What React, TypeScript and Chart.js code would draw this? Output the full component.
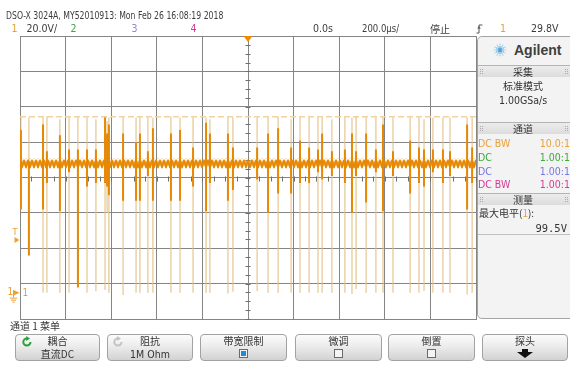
import React, { useEffect, useRef } from "react";
import { Chart, registerables } from "chart.js";

Chart.register(...registerables);

// Channel 1 acquisition: 200 µs/div, 20 V/div, stopped
const timeSpan = [-1000, 1000]; // µs across the 10 horizontal divisions
const timePerDiv = 200;
const voltsPerDiv = 20;
const screenCentre = 65.1; // V at the middle horizontal graticule line
const triggerLevel = 29.8;
const maxLevel = 99.5;
const baselineLevel = 73;

// switching edges (µs) and the span each edge sweeps (V)
const spikeTimes = [
  -996, -961, -899, -882, -825, -785, -746, -706, -667, -627,
  -618, -610, -548, -491, -474, -439, -417, -338, -298, -241,
  -184, -167, -88, -66, 40, 88, 132, 189, 228, 268,
  307, 325, 368, 425, 456, 474, 518, 561, 592, 636,
  711, 750, 772, 811, 855, 886, 961, 983,
];
const spikeHigh = [
  99, 99, 99, 99.5, 98, 99, 99, 99, 98, 99.5,
  97, 99, 99, 99, 99, 99, 99, 99.5, 99, 99,
  99, 98, 99, 99, 99, 99, 99.5, 98, 99, 99,
  99, 99, 98, 99, 99, 99.5, 99, 99, 99, 99,
  99, 99, 98, 99, 99, 99, 99, 99,
];
const spikeLow = [
  47, 21, 0, 0, 0, 0, 2.5, 0, 0.8, 1.5,
  45, 0, -1.3, 0, 0, 0, 0, 0, 0, 0,
  0, 0, -0.5, 0.5, 1, 0, 0, 0, 0, 0,
  0, 0, 0, 0, -0.8, 2, 0, 0, 0, 0,
  0, 0, 1, 0, 0, 0, -1, 0,
];
// ringing after each edge, drawn brighter
const ringHigh = [
  92, 74, 95, 80, 89, 81, 81, 81, 81, 99,
  90, 95, 90, 85, 90, 80, 93, 90, 92, 82,
  96, 90, 90, 82, 82, 90, 93, 82, 86, 82,
  81, 90, 80, 81, 90, 80, 90, 81, 95, 80,
  86, 82, 81, 81, 81, 80, 95, 82,
];
const ringLow = [
  47, 21, 47, 62, 46, 68, 3, 60, 62, 62,
  60, 55, 52, 52, 52, 66, 52, 52, 52, 60,
  46, 62, 52, 58, 64, 45, 56, 56, 62, 62,
  68, 64, 66, 62, 45, 66, 51, 68, 46, 66,
  56, 62, 60, 68, 62, 66, 47, 62,
];

const W = 570;
const H = 365;
const SANS = '"Liberation Sans Narrow", "DejaVu Sans Condensed", "Liberation Sans", Arial, sans-serif';
const CJK = '"Noto Sans CJK SC", "Liberation Sans", sans-serif';
const MONO = '"DejaVu Sans Mono", "Liberation Mono", monospace';
const ORANGE = "#e8a038";
const WAVE = "rgb(230,136,4)";
const EDGE = "rgba(226,192,132,0.9)";

const yMin = screenCentre - 4 * voltsPerDiv;
const yMax = screenCentre + 4 * voltsPerDiv;

type TxtProps = {
  x: number;
  y: number;
  children: React.ReactNode;
  size?: number;
  color?: string;
  font?: string;
  align?: "left" | "right" | "center";
  w?: number;
  weight?: number | string;
  sx?: number;
};

function Txt({ x, y, children, size = 10, color = "#3c3c3c", font = SANS, align = "left", w = 80, weight, sx }: TxtProps) {
  const style: React.CSSProperties = {
    position: "absolute",
    top: y - size / 2,
    fontSize: size,
    lineHeight: `${size}px`,
    color,
    fontFamily: font,
    whiteSpace: "nowrap",
    fontWeight: weight as any,
  };
  if (align === "left") style.left = x;
  else if (align === "right") style.right = W - x;
  else {
    style.left = x - w / 2;
    style.width = w;
    style.textAlign = "center";
  }
  if (sx) {
    style.transform = `scaleX(${sx})`;
    style.transformOrigin = align === "right" ? "right center" : align === "center" ? "center" : "left center";
  }
  return <div style={style}>{children}</div>;
}

function Grip({ x, y }: { x: number; y: number }) {
  const dots = [];
  for (let r = 0; r < 3; r++)
    for (let c = 0; c < 2; c++)
      dots.push(<div key={`${r}-${c}`} style={{ position: "absolute", left: x + c * 2, top: y + r * 2, width: 1, height: 1, background: "#a8a8a8" }} />);
  return <>{dots}</>;
}

function SectionHead({ y, label }: { y: number; label: string }) {
  return (
    <>
      <div style={{ position: "absolute", left: 478, top: y - 1, width: 92, height: 1, background: "#b4b4b4" }} />
      <div style={{ position: "absolute", left: 478, top: y, width: 92, height: 11, background: "linear-gradient(#ececec,#dcdcdc)" }} />
      <Grip x={480} y={y + 3} />
      <Grip x={565} y={y + 3} />
      <Txt x={523} y={y + 5.5} align="center" w={60} font={CJK} size={10} color="#333">{label}</Txt>
    </>
  );
}

function CheckBox({ x, y, on }: { x: number; y: number; on?: boolean }) {
  return (
    <div style={{ position: "absolute", left: x, top: y, width: 9, height: 9, border: "1px solid #6a6a6a", background: "#f4f4f4", boxSizing: "border-box" }}>
      {on && <div style={{ position: "absolute", left: 1, top: 1, width: 5, height: 5, background: "#1b8fd6" }} />}
    </div>
  );
}

function SoftKey({ x0, x1, top, children }: { x0: number; x1: number; top: string; children?: React.ReactNode }) {
  const cx = (x0 + x1) / 2;
  return (
    <>
      <div style={{ position: "absolute", left: x0, top: 334, width: x1 - x0, height: 27, borderRadius: 4, border: "1px solid #a2a2a2", boxSizing: "border-box", background: "linear-gradient(#fbfbfb 0%, #ececec 45%, #d2d2d2 100%)" }} />
      <Txt x={cx} y={341} align="center" w={x1 - x0} font={CJK} size={10} color="#333">{top}</Txt>
      {children}
    </>
  );
}

function RotateIcon({ x, y, color }: { x: number; y: number; color: string }) {
  return (
    <svg style={{ position: "absolute", left: x, top: y }} width="12" height="12" viewBox="0 0 12 12">
      <path d="M9.5 6 A3.6 3.6 0 1 1 6 2.4" fill="none" stroke={color} strokeWidth="2" />
      <path d="M5.2 0 L9 2.5 L5.2 5 Z" fill={color} />
    </svg>
  );
}

function AgilentSpark() {
  const dots = [];
  for (let k = 0; k < 12; k++) {
    const a = (k * Math.PI) / 6;
    for (let r = 1; r <= 3; r++) {
      const rad = 1.9 * r;
      dots.push(<circle key={`${k}-${r}`} cx={8 + rad * Math.cos(a)} cy={8 + rad * Math.sin(a)} r={r === 3 ? 0.6 : 0.8} fill={r === 1 ? "#4a9ed8" : "#7fc0ea"} />);
    }
  }
  return (
    <svg style={{ position: "absolute", left: 492, top: 42 }} width="16" height="16" viewBox="0 0 16 16">
      <circle cx="8" cy="8" r="1.1" fill="#3a8ed0" />
      {dots}
    </svg>
  );
}

export default function App() {
  const ref = useRef<HTMLCanvasElement>(null);

  useEffect(() => {
    const canvas = ref.current!;
    const ctx = canvas.getContext("2d")!;

    // ripple texture for the noisy DC level
    const tile = document.createElement("canvas");
    tile.width = 4;
    tile.height = 10;
    const g = tile.getContext("2d")!;
    g.fillStyle = "rgba(236,146,12,0.6)";
    g.fillRect(0, 2.5, 4, 5);
    g.strokeStyle = WAVE;
    g.lineWidth = 1.8;
    g.beginPath();
    g.moveTo(0, 1.2);
    g.lineTo(2, 8.8);
    g.lineTo(4, 1.2);
    g.stroke();
    const ripple = ctx.createPattern(tile, "repeat")!;

    const edgePoints = spikeTimes.flatMap((t, i) => [
      { x: t, y: spikeLow[i] },
      { x: t, y: spikeHigh[i] },
      { x: t, y: null },
    ]);
    const ringPoints = spikeTimes.flatMap((t, i) => [
      { x: t, y: ringLow[i] },
      { x: t, y: ringHigh[i] },
      { x: t, y: null },
    ]);

    const scopeMarks = {
      id: "scopeMarks",
      beforeDatasetsDraw(chart: any) {
        const { ctx: c, scales } = chart;
        const xs = scales.x;
        const ys = scales.y;
        const cx = Math.round(xs.getPixelForValue(0)) + 0.5;
        const cy = Math.round(ys.getPixelForValue(screenCentre)) + 0.5;
        c.save();
        c.strokeStyle = "#6e6e6e";
        c.lineWidth = 1;
        c.beginPath();
        for (let t = timeSpan[0]; t <= timeSpan[1]; t += timePerDiv / 4) {
          const px = Math.round(xs.getPixelForValue(t)) + 0.5;
          c.moveTo(px, cy - 2);
          c.lineTo(px, cy + 3);
        }
        for (let v = yMin; v <= yMax + 0.01; v += voltsPerDiv / 4) {
          const py = Math.round(ys.getPixelForValue(v)) + 0.5;
          c.moveTo(cx - 3, py);
          c.lineTo(cx + 2, py);
        }
        c.stroke();
        c.restore();
        const by = ys.getPixelForValue(baselineLevel);
        ripple.setTransform(new DOMMatrix([1, 0, 0, 1, 0, by - 5]));
      },
      afterDraw(chart: any) {
        const { ctx: c, scales, chartArea } = chart;
        const xs = scales.x;
        const ys = scales.y;
        c.save();
        c.fillStyle = "#f08a00";
        // trigger position
        const tx = xs.getPixelForValue(0);
        c.beginPath();
        c.moveTo(tx - 4.5, chartArea.top);
        c.lineTo(tx + 4.5, chartArea.top);
        c.lineTo(tx, chartArea.top + 6);
        c.closePath();
        c.fill();
        // trigger level
        const ty = ys.getPixelForValue(triggerLevel);
        c.fillStyle = "#f0a030";
        c.beginPath();
        c.moveTo(14.5, ty - 3);
        c.lineTo(19.5, ty);
        c.lineTo(14.5, ty + 3);
        c.closePath();
        c.fill();
        // channel 1 ground reference
        const gy = ys.getPixelForValue(0);
        c.beginPath();
        c.moveTo(13, gy - 3);
        c.lineTo(19.5, gy);
        c.lineTo(13, gy + 3);
        c.closePath();
        c.fill();
        c.strokeStyle = "#f0a030";
        c.lineWidth = 1;
        c.beginPath();
        c.moveTo(13.5, gy);
        c.lineTo(13.5, gy + 5);
        c.moveTo(10, gy + 5.5);
        c.lineTo(17, gy + 5.5);
        c.moveTo(11, gy + 7.5);
        c.lineTo(16, gy + 7.5);
        c.moveTo(12.5, gy + 9.5);
        c.lineTo(14.5, gy + 9.5);
        c.stroke();
        c.restore();
      },
    };

    const chart = new Chart(ctx, {
      type: "line",
      data: {
        datasets: [
          {
            data: ringPoints as any,
            borderColor: WAVE,
            borderWidth: 2,
            pointRadius: 0,
            spanGaps: false,
            order: 0,
          },
          {
            data: [
              { x: timeSpan[0], y: baselineLevel },
              { x: timeSpan[1], y: baselineLevel },
            ] as any,
            borderColor: ripple as any,
            borderWidth: 10,
            pointRadius: 0,
            order: 1,
          },
          {
            data: edgePoints as any,
            borderColor: EDGE,
            borderWidth: 1.2,
            pointRadius: 0,
            spanGaps: false,
            order: 2,
          },
          {
            data: [
              { x: timeSpan[0], y: maxLevel },
              { x: timeSpan[1], y: maxLevel },
            ] as any,
            borderColor: "rgba(242,210,160,1)",
            borderWidth: 1.5,
            borderDash: [6, 3],
            pointRadius: 0,
            order: 3,
          },
        ],
      },
      options: {
        responsive: false,
        animation: false,
        devicePixelRatio: 1,
        layout: { padding: { left: 20, top: 36, right: W - 476, bottom: H - 319 } },
        plugins: { legend: { display: false }, tooltip: { enabled: false } },
        elements: { line: { tension: 0 } },
        scales: {
          x: {
            type: "linear",
            min: timeSpan[0],
            max: timeSpan[1],
            ticks: { display: false, stepSize: timePerDiv },
            grid: { color: "#858585", lineWidth: 1, drawTicks: false },
            border: { color: "#858585" },
          },
          y: {
            type: "linear",
            min: yMin,
            max: yMax,
            ticks: { display: false, stepSize: voltsPerDiv },
            grid: { color: "#858585", lineWidth: 1, drawTicks: false },
            border: { color: "#858585" },
          },
        },
      },
      plugins: [scopeMarks],
    });
    return () => chart.destroy();
  }, []);

  return (
    <div style={{ position: "fixed", left: 0, top: 0, width: W, height: H, background: "#fff", overflow: "hidden" }}>
      <canvas ref={ref} width={W} height={H} style={{ position: "absolute", left: 0, top: 0 }} />

      {/* status line */}
      <Txt x={6} y={15.5} size={10.5} sx={0.82}>DSO-X 3024A, MY52010913: Mon Feb 26 16:08:19 2018</Txt>
      <Txt x={11.5} y={28.5} size={10.5} color={ORANGE}>1</Txt>
      <Txt x={26.5} y={28.5} size={10.5}>{voltsPerDiv.toFixed(1)}V/</Txt>
      <Txt x={70.5} y={28.5} size={10.5} color="#3aaa3a">2</Txt>
      <Txt x={131.5} y={28.5} size={10.5} color="#8a8ad4">3</Txt>
      <Txt x={190.5} y={28.5} size={10.5} color="#d0409a">4</Txt>
      <Txt x={313} y={28.5} size={10.5}>0.0s</Txt>
      <Txt x={362} y={28.5} size={10.5} sx={0.9}>{timePerDiv.toFixed(1)}µs/</Txt>
      <Txt x={430} y={28.5} size={10} font={CJK}>停止</Txt>
      <svg style={{ position: "absolute", left: 476, top: 23 }} width="7" height="11" viewBox="0 0 7 11">
        <path d="M0.5 10 H3 V2 H6.5" fill="none" stroke="#555" strokeWidth="1" />
        <path d="M1.2 5.5 L3 3 L4.8 5.5 Z" fill="#555" />
      </svg>
      <Txt x={500} y={28.5} size={10.5} color={ORANGE}>1</Txt>
      <Txt x={531} y={28.5} size={10.5}>{triggerLevel.toFixed(1)}V</Txt>

      {/* graticule labels */}
      <Txt x={12.5} y={232} size={9} color={ORANGE}>T</Txt>
      <Txt x={7.5} y={292} size={10} color={ORANGE}>1</Txt>
      <Txt x={22.5} y={293} size={10} color={ORANGE}>1</Txt>

      {/* side panel */}
      <div style={{ position: "absolute", left: 477, top: 36, width: 95, height: 283, background: "#f3f3f3", border: "1px solid #a4a4a4", borderRadius: "5px 0 0 5px", boxSizing: "border-box" }} />
      <AgilentSpark />
      <Txt x={514} y={50} size={14} weight="bold" color="#3f3f3f" font='"Liberation Sans", Arial, sans-serif'>Agilent</Txt>
      <SectionHead y={66} label="采集" />
      <Txt x={523} y={86} align="center" w={80} font={CJK} size={10} color="#333">标准模式</Txt>
      <Txt x={523} y={100} align="center" w={80} size={10.5} color="#333">1.00GSa/s</Txt>
      <SectionHead y={123} label="通道" />
      <Txt x={478} y={143} size={10.5} color={ORANGE}>DC BW</Txt>
      <Txt x={570} y={143} size={10.5} color={ORANGE} align="right">10.0:1</Txt>
      <Txt x={478} y={157} size={10.5} color="#3aaa3a">DC</Txt>
      <Txt x={570} y={157} size={10.5} color="#3aaa3a" align="right">1.00:1</Txt>
      <Txt x={478} y={171} size={10.5} color="#7676e0">DC</Txt>
      <Txt x={570} y={171} size={10.5} color="#7676e0" align="right">1.00:1</Txt>
      <Txt x={478} y={184.5} size={10.5} color="#d63a96">DC BW</Txt>
      <Txt x={570} y={184.5} size={10.5} color="#d63a96" align="right">1.00:1</Txt>
      <SectionHead y={194} label="测量" />
      <div style={{ position: "absolute", left: 479, top: 208, fontSize: 10, lineHeight: "10px", fontFamily: CJK, color: "#333", whiteSpace: "nowrap" }}>
        最大电平(<span style={{ color: ORANGE }}>1</span>):
      </div>
      <Txt x={567} y={228} size={10.5} font={MONO} color="#333" align="right">{maxLevel.toFixed(1)}V</Txt>
      <div style={{ position: "absolute", left: 478, top: 234, width: 92, height: 1, background: "#c0c0c0" }} />

      {/* soft key menu */}
      <Txt x={10} y={325.5} size={10} font={CJK} color="#333">通道 1 菜单</Txt>
      <SoftKey x0={15} x1={100} top="耦合">
        <RotateIcon x={21} y={336} color="#2f9e3c" />
        <Txt x={57.5} y={354} align="center" w={85} font={CJK} size={10} color="#333">直流DC</Txt>
      </SoftKey>
      <SoftKey x0={107} x1={193} top="阻抗">
        <RotateIcon x={112} y={336} color="#c4c4c4" />
        <Txt x={150} y={354} align="center" w={86} size={10.5} color="#333">1M Ohm</Txt>
      </SoftKey>
      <SoftKey x0={200} x1={287} top="带宽限制">
        <CheckBox x={239} y={349} on />
      </SoftKey>
      <SoftKey x0={295} x1={382} top="微调">
        <CheckBox x={334} y={349} />
      </SoftKey>
      <SoftKey x0={388} x1={475} top="倒置">
        <CheckBox x={427} y={349} />
      </SoftKey>
      <SoftKey x0={482} x1={568} top="探头">
        <svg style={{ position: "absolute", left: 517, top: 349 }} width="16" height="9" viewBox="0 0 16 9">
          <path d="M5 0 H11 V3 H16 L8 9 L0 3 H5 Z" fill="#111" />
        </svg>
      </SoftKey>
    </div>
  );
}
